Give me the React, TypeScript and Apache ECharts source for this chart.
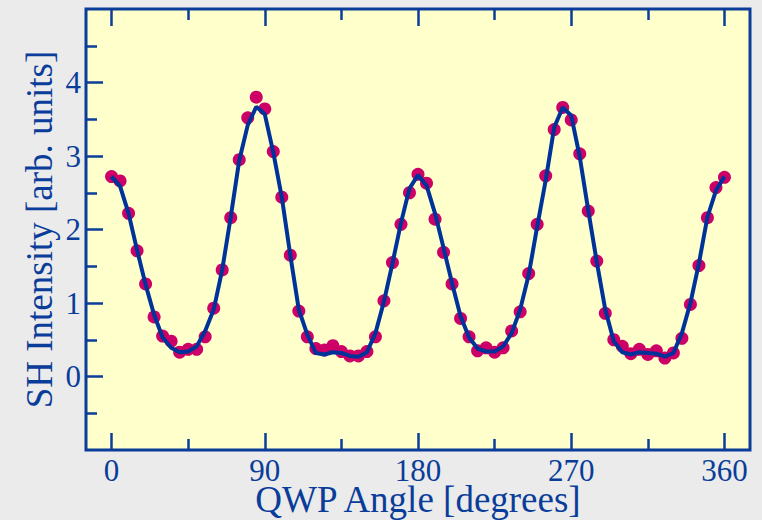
import React, { useEffect, useRef } from "react";
import * as echarts from "echarts";

const angles = [
  0, 5, 10, 15, 20, 25, 30, 35, 40, 45, 50, 55, 60, 65, 70, 75, 80, 85, 90, 95,
  100, 105, 110, 115, 120, 125, 130, 135, 140, 145, 150, 155, 160, 165, 170, 175,
  180, 185, 190, 195, 200, 205, 210, 215, 220, 225, 230, 235, 240, 245, 250, 255,
  260, 265, 270, 275, 280, 285, 290, 295, 300, 305, 310, 315, 320, 325, 330, 335,
  340, 345, 350, 355, 360,
];

const measured = [
  2.72, 2.66, 2.22, 1.71, 1.26, 0.81, 0.55, 0.48, 0.33, 0.37, 0.37, 0.54, 0.93, 1.45,
  2.16, 2.95, 3.52, 3.80, 3.64, 3.06, 2.44, 1.65, 0.89, 0.54, 0.38, 0.36, 0.42, 0.34,
  0.28, 0.28, 0.34, 0.54, 1.03, 1.55, 2.07, 2.50, 2.75, 2.63, 2.14, 1.69, 1.26, 0.79,
  0.54, 0.35, 0.39, 0.33, 0.39, 0.62, 0.88, 1.40, 2.07, 2.73, 3.36, 3.66, 3.49, 3.03,
  2.25, 1.57, 0.86, 0.50, 0.41, 0.31, 0.37, 0.30, 0.35, 0.25, 0.32, 0.52, 0.98, 1.51,
  2.16, 2.57, 2.71,
];

const fitted = [
  2.72, 2.59, 2.22, 1.72, 1.25, 0.84, 0.53, 0.39, 0.33, 0.34, 0.41, 0.62, 0.91, 1.45,
  2.17, 2.94, 3.42, 3.67, 3.57, 3.05, 2.44, 1.65, 0.91, 0.57, 0.32, 0.30, 0.33, 0.32,
  0.28, 0.27, 0.33, 0.59, 1.02, 1.54, 2.09, 2.56, 2.74, 2.60, 2.22, 1.75, 1.27, 0.82,
  0.53, 0.38, 0.34, 0.34, 0.41, 0.59, 0.91, 1.38, 2.04, 2.67, 3.39, 3.66, 3.55, 2.99,
  2.26, 1.56, 0.91, 0.48, 0.33, 0.30, 0.33, 0.32, 0.31, 0.27, 0.32, 0.59, 1.00, 1.54,
  2.17, 2.53, 2.72,
];

const xMajor = [0, 90, 180, 270, 360];
const xMinor = [45, 135, 225, 315];
const yMajor = [0, 1, 2, 3, 4];
const yMinor = [-0.5, 0.5, 1.5, 2.5, 3.5, 4.5];

const BLUE = "#0a3d9a";
const FONT = "Liberation Serif";

export default function App() {
  const ref = useRef<HTMLDivElement>(null);

  useEffect(() => {
    if (!ref.current) return;
    const chart = echarts.init(ref.current, undefined, { renderer: "svg" });

    const tickAxis = (
      position: string,
      values: number[],
      len: number,
      labelMargin: number | null,
      min: number,
      max: number,
      extra: any = {}
    ) => ({
      type: "value",
      position,
      min,
      max,
      axisLine: { show: false, onZero: false },
      splitLine: { show: false },
      axisTick: {
        show: true,
        inside: true,
        length: len,
        customValues: values,
        lineStyle: { color: BLUE, width: 2.5 },
      },
      axisLabel:
        labelMargin !== null
          ? {
              show: true,
              customValues: values,
              color: BLUE,
              fontFamily: FONT,
              fontSize: 31,
              lineHeight: 26,
              margin: labelMargin,
            }
          : { show: false },
      ...extra,
    });

    const nameStyle = { color: BLUE, fontFamily: FONT, fontSize: 37 };

    chart.setOption({
      animation: false,
      backgroundColor: "#ebebeb",
      grid: {
        left: 86,
        right: 12,
        top: 9,
        bottom: 70,
        containLabel: false,
        outerBoundsMode: "none",
        show: true,
        backgroundColor: "#ffffcc",
        borderColor: BLUE,
        borderWidth: 3,
      },
      xAxis: [
        tickAxis("bottom", xMajor, 17, 7.5, -15, 375, {
          name: "QWP Angle [degrees]",
          nameLocation: "middle",
          nameGap: 34.5,
          nameMoveOverlap: false,
          nameTextStyle: { ...nameStyle, lineHeight: 30 },
        }),
        tickAxis("bottom", xMinor, 11, null, -15, 375),
        tickAxis("top", xMajor, 17, null, -15, 375),
        tickAxis("top", xMinor, 11, null, -15, 375),
      ],
      yAxis: [
        tickAxis("left", yMajor, 17, 5, -1, 5, {
          name: "SH Intensity [arb. units]",
          nameLocation: "middle",
          nameGap: 28,
          nameMoveOverlap: false,
          nameTextStyle: nameStyle,
        }),
        tickAxis("left", yMinor, 11, null, -1, 5),
      ],
      series: [
        {
          type: "scatter",
          xAxisIndex: 0,
          yAxisIndex: 0,
          symbol: "circle",
          symbolSize: 13,
          itemStyle: { color: "#cc0066", opacity: 1 },
          data: angles.map((a, i) => [a, measured[i]]),
          z: 2,
        },
        {
          type: "line",
          xAxisIndex: 0,
          yAxisIndex: 0,
          showSymbol: false,
          symbol: "none",
          lineStyle: { color: "#003399", width: 4 },
          data: angles.map((a, i) => [a, fitted[i]]),
          z: 3,
        },
      ],
    });

    return () => chart.dispose();
  }, []);

  return (
    <div
      ref={ref}
      style={{
        position: "fixed",
        left: 0,
        top: 0,
        width: 762,
        height: 520,
        background: "#ebebeb",
      }}
    />
  );
}
